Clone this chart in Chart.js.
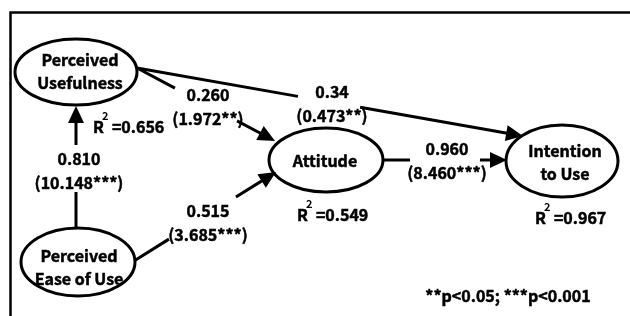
<!DOCTYPE html>
<html>
<head>
<meta charset="utf-8">
<script src="https://cdn.jsdelivr.net/npm/chart.js@4/dist/chart.umd.min.js"></script>
<style>
  html, body { margin: 0; padding: 0; background: #fff; }
  #wrap { width: 630px; height: 316px; }
</style>
</head>
<body>
<div id="wrap"><canvas id="pathChart" width="630" height="316"></canvas></div>
<script>
// ── Data ────────────────────────────────────────────────────
const nodeKeys   = ['PU', 'PEU', 'ATT', 'INT'];
const nodeLabels = [['Perceived', 'Usefulness'], ['Perceived', 'Ease of Use'], ['Attitude'], ['Intention', 'to Use']];
const nodeR2     = ['0.656', null, '0.549', '0.967'];

const pathFrom  = ['PEU', 'PU', 'PU', 'PEU', 'ATT'];
const pathTo    = ['PU', 'ATT', 'INT', 'ATT', 'INT'];
const pathCoef  = ['0.810', '0.260', '0.34', '0.515', '0.960'];
const pathT     = ['10.148', '1.972', '0.473', '3.685', '8.460'];
const pathStars = ['***', '**', '**', '***', '***'];

const footnote = '**p<0.05; ***p<0.001';

// ── Layout (canvas units) ───────────────────────────────────
// ellipse centre x, y, radius x, radius y
const nodeShape = { PU: [76, 72, 61, 33], PEU: [78, 262, 57, 34], ATT: [326, 160, 57, 32], INT: [562, 161, 56, 36] };
const nodeText  = { PU: [80, 71], PEU: [79, 267], ATT: [325, 161], INT: [565, 162] };
const r2Pos     = { PU: [93, 127], ATT: [297, 215], INT: [535, 218] };

// start, arrow tip, gap along the line (fraction), label centre
const pathGeom = [
    { a: [76, 228],  b: [76, 106],  gap: [0.295, 0.68],  lab: [79, 171] },
    { a: [137, 68],  b: [275, 141], gap: [0.275, 0.725], lab: [208, 107] },
    { a: [137, 68],  b: [523, 136], gap: [0.417, 0.578], lab: [332, 104] },
    { a: [134, 261], b: [276, 172], gap: [0.246, 0.718], lab: [208, 223] },
    { a: [383, 160], b: [507, 160], gap: [0.218, 0.782], lab: [447, 161] },
];

const FONT = '"Noto Sans CJK KR", "Liberation Sans", sans-serif';
const HEAD_LEN = 17, HEAD_HALF = 8;

// ── Build line datasets for the paths ───────────────────────
function lerp(p, q, t) { return { x: p[0] + (q[0] - p[0]) * t, y: p[1] + (q[1] - p[1]) * t }; }

const datasets = pathGeom.map((g, i) => {
    const len = Math.hypot(g.b[0] - g.a[0], g.b[1] - g.a[1]);
    const tEnd = 1 - HEAD_LEN / len;
    const g0 = lerp(g.a, g.b, g.gap[0]);
    const g1 = lerp(g.a, g.b, g.gap[1]);
    return {
        type: 'line',
        label: pathFrom[i] + '→' + pathTo[i],
        data: [lerp(g.a, g.b, 0), g0, { x: (g0.x + g1.x) / 2, y: null }, g1, lerp(g.a, g.b, tEnd + 0.01)],
        borderColor: '#000',
        borderWidth: 3,
        borderCapStyle: 'butt',
        pointRadius: 0,
        spanGaps: false,
        tension: 0,
    };
});

// bold text, a touch heavier like the original figure
function boldText(ctx, s, x, y) {
    ctx.fillText(s, x, y);
    ctx.strokeText(s, x, y);
}

// ── Plugin: frame, ellipses, arrow heads, text ─────────────
const diagram = {
    id: 'diagram',
    afterDatasetsDraw(chart) {
        const { ctx, scales: { x, y } } = chart;
        const px = v => x.getPixelForValue(v);
        const py = v => y.getPixelForValue(v);
        ctx.save();

        // frame (runs off the right/bottom edge)
        ctx.strokeStyle = '#000';
        ctx.lineWidth = 2.5;
        ctx.strokeRect(px(10.5), py(12.5), px(640) - px(10.5), py(330) - py(12.5));

        // ellipses
        ctx.lineWidth = 3;
        nodeKeys.forEach(k => {
            const [cx, cy, rx, ry] = nodeShape[k];
            ctx.beginPath();
            ctx.ellipse(px(cx), py(cy), px(cx + rx) - px(cx), Math.abs(py(cy + ry) - py(cy)), 0, 0, Math.PI * 2);
            ctx.fillStyle = '#fff';
            ctx.fill();
            ctx.stroke();
        });

        // arrow heads
        ctx.fillStyle = '#000';
        pathGeom.forEach(g => {
            const ax = px(g.a[0]), ay = py(g.a[1]), bx = px(g.b[0]), by = py(g.b[1]);
            const len = Math.hypot(bx - ax, by - ay);
            const ux = (bx - ax) / len, uy = (by - ay) / len;
            const baseX = bx - ux * HEAD_LEN, baseY = by - uy * HEAD_LEN;
            ctx.beginPath();
            ctx.moveTo(bx, by);
            ctx.lineTo(baseX - uy * HEAD_HALF, baseY + ux * HEAD_HALF);
            ctx.lineTo(baseX + uy * HEAD_HALF, baseY - ux * HEAD_HALF);
            ctx.closePath();
            ctx.fill();
        });

        // text
        ctx.lineWidth = 0.5;
        ctx.textAlign = 'center';
        ctx.textBaseline = 'middle';
        ctx.font = 'bold 16px ' + FONT;
        nodeKeys.forEach((k, i) => {
            const lines = nodeLabels[i];
            const [tx, ty] = nodeText[k];
            lines.forEach((s, j) => {
                boldText(ctx, s, px(tx), py(ty + (j - (lines.length - 1) / 2) * 23));
            });
        });

        // path labels
        pathGeom.forEach((g, i) => {
            boldText(ctx, pathCoef[i], px(g.lab[0]), py(g.lab[1] - 12));
            boldText(ctx, '(' + pathT[i] + pathStars[i] + ')', px(g.lab[0]), py(g.lab[1] + 12));
        });

        // R squared
        ctx.textAlign = 'left';
        nodeKeys.forEach((k, i) => {
            if (nodeR2[i] == null) return;
            const [rx, ry] = r2Pos[k];
            ctx.font = 'bold 16px ' + FONT;
            boldText(ctx, 'R', px(rx), py(ry));
            const rw = ctx.measureText('R').width;
            boldText(ctx, '=' + nodeR2[i], px(rx + rw + 8), py(ry));
            ctx.font = 'bold 11px ' + FONT;
            ctx.fillText('2', px(rx + rw - 2), py(ry - 11));
        });

        // footnote
        ctx.font = 'bold 16px ' + FONT;
        ctx.textAlign = 'center';
        boldText(ctx, footnote, px(508), py(296));

        ctx.restore();
    },
};

new Chart(document.getElementById('pathChart'), {
    type: 'scatter',
    data: { datasets: datasets },
    options: {
        responsive: false,
        animation: false,
        devicePixelRatio: 1,
        layout: { padding: 0 },
        plugins: { legend: { display: false }, tooltip: { enabled: false } },
        scales: {
            x: { type: 'linear', min: 0, max: 630, display: false },
            y: { type: 'linear', min: 0, max: 316, reverse: true, display: false },
        },
    },
    plugins: [diagram],
});
</script>
</body>
</html>
